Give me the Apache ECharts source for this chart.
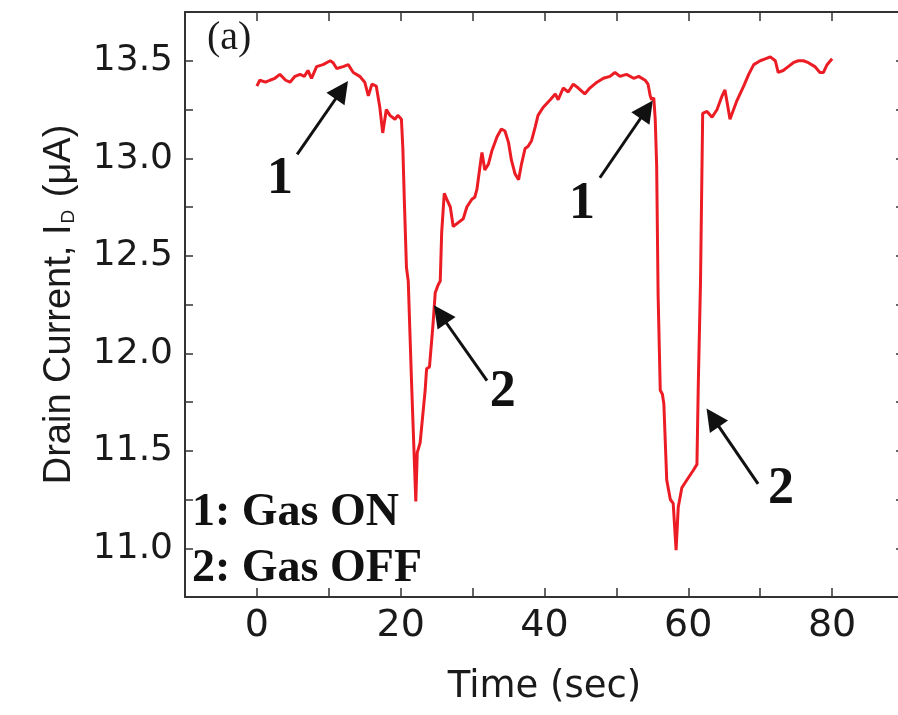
<!DOCTYPE html>
<html>
<head>
<meta charset="utf-8">
<script src="https://cdn.jsdelivr.net/npm/echarts@6/dist/echarts.min.js"></script>
<style>
html, body { margin: 0; padding: 0; background: #fff; }
#chart { width: 898px; height: 715px; }
</style>
</head>
<body>
<div id="chart"></div>
<script>
// time (sec) and drain current (uA)
const timeSec = [
  0.0, 0.4, 1.2, 1.8, 2.5, 3.2, 4.0, 4.6, 5.3, 6.0, 6.6, 7.1, 7.6, 8.3, 9.2, 10.2, 10.6, 11.1, 12.0, 12.7,
  13.4, 14.3, 15.0, 15.5, 16.0, 16.6, 17.1, 17.5, 18.0, 18.5, 19.2, 19.6, 20.1, 20.3, 20.5, 20.8, 21.05, 21.5, 22.1, 22.3,
  22.7, 23.4, 23.6, 24.0, 24.5, 24.8, 25.2, 25.5, 25.7, 26.06, 26.4, 26.9, 27.3, 28.0, 28.7, 29.2, 29.9, 30.3, 30.6, 31.0,
  31.3, 31.7, 32.2, 32.7, 33.4, 34.0, 34.5, 35.0, 35.4, 35.9, 36.4, 36.8, 37.3, 37.7, 38.2, 38.7, 39.1, 39.8, 40.8, 41.5,
  41.9, 42.6, 43.3, 44.0, 44.7, 45.6, 46.3, 47.3, 48.2, 49.1, 49.8, 50.5, 51.4, 52.4, 53.1, 54.0, 54.4, 54.7, 54.9, 55.2,
  55.4, 55.6, 55.8, 56.1, 56.4, 56.6, 57.0, 57.5, 57.9, 58.3, 58.6, 59.1, 59.8, 60.7, 61.2, 61.4, 61.7, 62.0, 62.6, 63.3,
  64.0, 64.7, 65.1, 65.8, 66.0, 66.7, 67.7, 68.4, 69.1, 70.0, 70.7, 71.4, 72.1, 72.5, 73.2, 73.9, 74.6, 75.3, 76.0, 76.7,
  77.6, 78.3, 78.8, 79.3, 80.0
];
const drainCurrent = [
  13.37, 13.40, 13.39, 13.40, 13.41, 13.43, 13.40, 13.39, 13.42, 13.43, 13.42, 13.45, 13.41, 13.47, 13.48, 13.50, 13.49, 13.46, 13.47, 13.48,
  13.44, 13.42, 13.39, 13.32, 13.38, 13.37, 13.26, 13.13, 13.25, 13.22, 13.20, 13.22, 13.20, 13.05, 12.79, 12.44, 12.37, 11.86, 11.24, 11.49,
  11.54, 11.81, 11.92, 11.93, 12.15, 12.31, 12.35, 12.37, 12.62, 12.82, 12.79, 12.75, 12.65, 12.67, 12.69, 12.75, 12.79, 12.80, 12.84, 12.95,
  13.03, 12.94, 12.97, 13.04, 13.11, 13.15, 13.14, 13.08, 12.99, 12.92, 12.89, 12.97, 13.05, 13.06, 13.09, 13.16, 13.22, 13.26, 13.30, 13.33,
  13.30, 13.36, 13.34, 13.38, 13.36, 13.33, 13.36, 13.39, 13.41, 13.42, 13.44, 13.42, 13.43, 13.41, 13.42, 13.40, 13.38, 13.32, 13.30, 13.31,
  13.20, 12.96, 12.30, 11.81, 11.79, 11.74, 11.35, 11.25, 11.23, 10.99, 11.21, 11.31, 11.35, 11.40, 11.43, 11.86, 12.37, 13.23, 13.24, 13.21,
  13.25, 13.32, 13.35, 13.20, 13.21, 13.29, 13.37, 13.43, 13.48, 13.50, 13.51, 13.52, 13.50, 13.44, 13.45, 13.47, 13.49, 13.50, 13.50, 13.49,
  13.47, 13.44, 13.44, 13.48, 13.51
];

const xTickLabels = [0, 20, 40, 60, 80];
const yTickLabels = [11.0, 11.5, 12.0, 12.5, 13.0, 13.5];

// annotation arrows (data coords): tail -> head
const arrowFrom = [[5.6, 13.02], [47.7, 12.90], [32.0, 11.86], [69.7, 11.33]];
const arrowTo = [[11.8, 13.35], [54.2, 13.25], [25.5, 12.20], [63.4, 11.67]];
const arrowText = ['1', '1', '2', '2'];
const arrowTextAt = [[3.2, 12.89], [45.2, 12.76], [34.2, 11.80], [72.9, 11.30]];

const legendLines = ['1: Gas ON', '2: Gas OFF'];

const axisColor = '#333';
const textColor = '#1a1a1a';
const sansWide = 'DejaVu Sans';

const chart = echarts.init(document.getElementById('chart'));

const frameX = (pos, labels) => ({
  type: 'value',
  position: pos,
  min: -10,
  max: 90,
  interval: 10,
  axisLine: { show: true, onZero: false, lineStyle: { color: axisColor, width: 2 } },
  axisTick: { show: true, inside: true, length: 9, lineStyle: { color: axisColor, width: 1.5 } },
  splitLine: { show: false },
  axisLabel: {
    show: labels,
    margin: 10,
    fontFamily: sansWide,
    fontSize: 38,
    color: textColor,
    formatter: v => (xTickLabels.includes(v) ? String(v) : '')
  }
});

const frameY = (pos, labels) => ({
  type: 'value',
  position: pos,
  min: 10.75,
  max: 13.75,
  interval: 0.25,
  axisLine: { show: true, onZero: false, lineStyle: { color: axisColor, width: 2 } },
  axisTick: { show: true, inside: true, length: 8, lineStyle: { color: axisColor, width: 1.5 } },
  splitLine: { show: false },
  axisLabel: {
    show: labels,
    margin: 12,
    fontFamily: sansWide,
    fontSize: 36,
    color: textColor,
    formatter: v => (yTickLabels.some(t => Math.abs(t - v) < 1e-6) ? v.toFixed(1) : '')
  }
});

const xBottom = frameX('bottom', true);
xBottom.name = 'Time (sec)';
xBottom.nameLocation = 'middle';
xBottom.nameGap = 72;
xBottom.nameTextStyle = { fontFamily: sansWide, fontSize: 37, color: textColor };

const yLeft = frameY('left', true);
yLeft.name = '{a|Drain Current, I}{b|D}{a| (\u03bcA)}';
yLeft.nameLocation = 'middle';
yLeft.nameRotate = 90;
yLeft.nameGap = 106;
yLeft.nameTextStyle = {
  color: textColor,
  rich: {
    a: { fontFamily: 'Liberation Sans', fontSize: 38, color: textColor },
    b: { fontFamily: 'Liberation Sans', fontSize: 19, color: textColor, padding: [18, 2, 0, 1] }
  }
};

const option = {
  animation: false,
  backgroundColor: '#fff',
  grid: { left: 185, top: 12, width: 719, height: 585, outerBoundsMode: 'none', containLabel: false },
  xAxis: [xBottom, frameX('top', false)],
  yAxis: [yLeft, frameY('right', false)],
  graphic: [
    {
      type: 'text', left: 207, top: 18, silent: true,
      style: { text: '(a)', font: '40px "Liberation Serif"', fill: textColor }
    },
    {
      type: 'text', left: 192, top: 490, silent: true,
      style: { text: legendLines[0], font: 'bold 46px "Liberation Serif"', fill: '#111' }
    },
    {
      type: 'text', left: 192, top: 546, silent: true,
      style: { text: legendLines[1], font: 'bold 46px "Liberation Serif"', fill: '#111' }
    }
  ],
  series: [
    {
      type: 'line',
      xAxisIndex: 0,
      yAxisIndex: 0,
      data: timeSec.map((t, i) => [t, drainCurrent[i]]),
      showSymbol: false,
      symbol: 'none',
      silent: true,
      lineStyle: { color: '#ec1c24', width: 3 },
      z: 3,
      markLine: {
        silent: true,
        symbol: ['none', 'triangle'],
        symbolSize: 22,
        itemStyle: { color: '#111' },
        lineStyle: { color: '#111', width: 3, type: 'solid' },
        label: { show: false },
        emphasis: { disabled: true },
        data: arrowFrom.map((p, i) => [{ coord: p }, { coord: arrowTo[i] }])
      },
      markPoint: {
        silent: true,
        symbol: 'circle',
        symbolSize: 1,
        itemStyle: { color: 'rgba(0,0,0,0)' },
        label: {
          show: true,
          position: 'inside',
          formatter: p => p.name,
          fontFamily: 'Liberation Serif',
          fontWeight: 'bold',
          fontSize: 52,
          color: '#111'
        },
        data: arrowTextAt.map((p, i) => ({ name: arrowText[i], coord: p }))
      }
    }
  ]
};

chart.setOption(option);
</script>
</body>
</html>
